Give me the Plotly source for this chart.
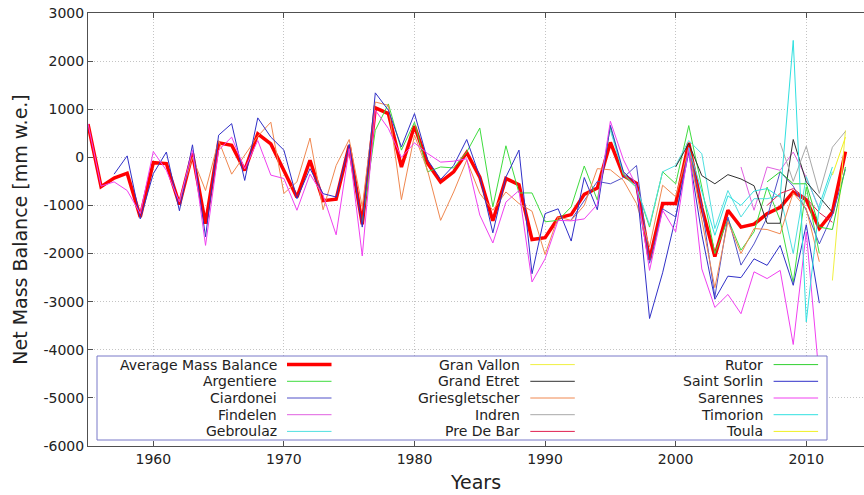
import plotly.graph_objects as go

# ---------------- data (mm w.e.) ----------------
avg_start = 1955
avg_values = [690, -610, -430, -330, -1240, -110, -130, -980, 80, -1380,
              300, 250, -270, 490, 280, -260, -830, -60, -900, -870,
              240, -1390, 1030, 910, -200, 650, -120, -510, -300, 100,
              -410, -1320, -440, -570, -1710, -1670, -1260, -1190, -770, -640,
              310, -380, -540, -2130, -960, -960, 300, -1050, -2060, -1100,
              -1450, -1390, -1170, -1040, -720, -880, -1480, -1140, 120]

argentiere_start = 1976
argentiere_values = [-1350, 560, 1110, 150, 730, -300, -200, -220, 110, 610,
                     -1030, 240, -740, -740, -1340, -1310, -1030, -180, -890, 630,
                     -370, -630, -1450, -300, -550, 660, -620, -2000, -1280, -1930,
                     -1550, -620, -1310, -2600, -620, -2000]

ciardonei_start = 1992
ciardonei_values = [-1300, -900, -500, -550, -420, -170, -2200, -1070, -1240, 200,
                    -1000, -2900, -1240, -2240, -1800, -1250, -300, -600, -1100, -1800,
                    -1200, -250]

findelen_start = 2005
findelen_values = [-200, -1100, -200, -270, 110, -420, -1070]

gebroulaz_start = 1995
gebroulaz_values = [560, -340, -620, -1410, -300, -170, 350, 75, -1480, -690,
                    -1240, -860, -860, -790, -2000, -400, -1100, -300]

gran_vallon_start = 2012
gran_vallon_values = [-2560, 560]

grand_etret_start = 2000
grand_etret_values = [-200, 290, -380, -550, -360, -450, -590, -1370, -1370, 370,
                      -510, -830, -1140]

griesgletscher_start = 1962
griesgletscher_values = [-900, 0, -690, 350, -350, 40, 440, 730, -750, -510,
                         400, -1090, -170, 370, -1030, 1150, 1080, -880, 460, -270,
                         -1310, -720, -60, -750, -1100, -720, -960, -1120, -2020, -1240,
                         -1310, -1000, -235, -260, -480, -960, -1860, -580, -820, 200,
                         -1300, -2710, -1340, -2000, -1480, -1500, -1590, -740, -1070, -2170]

indren_start = 2008
indren_values = [300, -500, 230, -750, 210, 540]

pre_de_bar_start = 2007
pre_de_bar_values = [-1000, -750, -650, -850, -1150, -1350]

rutor_start = 2007
rutor_values = [-510, -300, -550, -550, -1450, -1500, -200]

saint_sorlin_start = 1957
saint_sorlin_values = [-350, 30, -1280, -340, 110, -1110, 260, -1650, 460, 700,
                       -480, 820, 420, 150, -860, -235, -755, -825, 270, -1450,
                       1340, 980, 215, 910, -50, -460, -170, 370, -400, -1570,
                       -410, 150, -2420, -1170, -1070, -1740, -420, -1090, 665, -300,
                       -550, -3350, -2400, -1250, 100, -1600, -2950, -2470, -2500, -2110,
                       -2245, -1830, -2660, -1400, -3030]

sarennes_start = 1955
sarennes_values = [700, -600, -510, -690, -1170, 120, -270, -930, 150, -1830,
                   150, 420, -240, 350, -370, -440, -1100, -350, -790, -1610,
                   180, -2050, 980, 600, 0, 300, 80, -100, -80, -30,
                   -1200, -1780, -930, -690, -2590, -2110, -1310, -1320, -1280, -980,
                   750, -50, -600, -2350, -1100, -1550, 200, -2320, -3120, -2850,
                   -3250, -2380, -2520, -2350, -3890, -1550, -4600]

timorion_start = 2001
timorion_values = [200, -700, -1620, -800, -1000, -700, -650, -830, 2430, -3420,
                   -1000, -200]

toula_start = 2012
toula_values = [-370, 420]

x_ticks = [1960, 1970, 1980, 1990, 2000, 2010]
y_ticks = [-6000, -5000, -4000, -3000, -2000, -1000, 0, 1000, 2000, 3000]

series = [
    ("Average Mass Balance", avg_start, avg_values, "#ff0000", 3.5),
    ("Argentiere", argentiere_start, argentiere_values, "#3fdc3f", 1),
    ("Ciardonei", ciardonei_start, ciardonei_values, "#5050c8", 1),
    ("Findelen", findelen_start, findelen_values, "#e060e0", 1),
    ("Gebroulaz", gebroulaz_start, gebroulaz_values, "#50e0e0", 1),
    ("Gran Vallon", gran_vallon_start, gran_vallon_values, "#f0f040", 1),
    ("Grand Etret", grand_etret_start, grand_etret_values, "#303030", 1),
    ("Griesgletscher", griesgletscher_start, griesgletscher_values, "#f08850", 1),
    ("Indren", indren_start, indren_values, "#a8a8a8", 1),
    ("Pre De Bar", pre_de_bar_start, pre_de_bar_values, "#e02050", 1),
    ("Rutor", rutor_start, rutor_values, "#30d030", 1),
    ("Saint Sorlin", saint_sorlin_start, saint_sorlin_values, "#3030c8", 1),
    ("Sarennes", sarennes_start, sarennes_values, "#f040f0", 1),
    ("Timorion", timorion_start, timorion_values, "#30e0e0", 1),
    ("Toula", toula_start, toula_values, "#f0f020", 1),
]

# ---------------- layout geometry ----------------
W, H = 864, 495
M_L, M_R, M_T, M_B = 88, 0, 13, 49
PLOT_W = W - M_L - M_R
PLOT_H = H - M_T - M_B


def paper_x(px):
    return (px - M_L) / PLOT_W


def paper_y(py):
    return (H - M_B - py) / PLOT_H


fig = go.Figure()
for name, start, vals, color, width in series:
    years = list(range(start, start + len(vals)))
    fig.add_trace(go.Scatter(
        x=years, y=vals, name=name, mode="lines",
        line=dict(color=color, width=width),
        showlegend=False,
    ))

# ---------------- legend (gnuplot style: text right-aligned, sample on right) ----------------
LEG_LEFT, LEG_RIGHT, LEG_TOP, LEG_BOTTOM = 97, 827, 356, 440
LEG_ROWS = 5
COL_TEXT_RIGHT0, COL_STEP = 278.5, 243.3
ROW_Y0, ROW_STEP = 364.6, 16.7
SAMPLE_GAP, SAMPLE_LEN = 8.5, 44.5

shapes = [dict(type="rect", xref="paper", yref="paper", layer="above",
               x0=paper_x(LEG_LEFT), x1=paper_x(LEG_RIGHT),
               y0=paper_y(LEG_BOTTOM), y1=paper_y(LEG_TOP),
               fillcolor="white", line=dict(color="#7878c8", width=1))]
annotations = []
for i, (name, start, vals, color, width) in enumerate(series):
    col, row = divmod(i, LEG_ROWS)
    tx = COL_TEXT_RIGHT0 + COL_STEP * col
    ty = ROW_Y0 + ROW_STEP * row
    annotations.append(dict(
        x=paper_x(tx), y=paper_y(ty), xref="paper", yref="paper",
        text=name, showarrow=False, xanchor="right", yanchor="middle",
        font=dict(family="DejaVu Sans, sans-serif", size=14, color="#222222"),
    ))
    shapes.append(dict(
        type="line", xref="paper", yref="paper", layer="above",
        x0=paper_x(tx + SAMPLE_GAP), x1=paper_x(tx + SAMPLE_GAP + SAMPLE_LEN),
        y0=paper_y(ty), y1=paper_y(ty),
        line=dict(color=color, width=width),
    ))

axis_color = "#505050"
grid_color = "#c4c4c4"
font_family = "DejaVu Sans, sans-serif"

fig.update_layout(
    width=W, height=H,
    margin=dict(l=M_L, r=M_R, t=M_T, b=M_B),
    paper_bgcolor="white", plot_bgcolor="white",
    font=dict(family=font_family, size=14, color="#222222"),
    showlegend=False,
    shapes=shapes,
    annotations=annotations,
    xaxis=dict(
        range=[1955, 2014.42],
        tickvals=x_ticks, ticktext=[str(v) for v in x_ticks],
        showgrid=True, gridcolor=grid_color, griddash="1px,2px", gridwidth=1,
        showline=True, linecolor=axis_color, linewidth=1, mirror="ticks",
        ticks="inside", ticklen=5, tickcolor=axis_color,
        zeroline=False,
        title=dict(text="Years", font=dict(size=19, color="#222222"), standoff=9),
    ),
    yaxis=dict(
        range=[-6000, 3000],
        tickvals=y_ticks, ticktext=[str(v) for v in y_ticks],
        showgrid=True, gridcolor=grid_color, griddash="1px,2px", gridwidth=1,
        showline=True, linecolor=axis_color, linewidth=1, mirror=False,
        ticks="inside", ticklen=5, tickcolor=axis_color,
        zeroline=False,
        title=dict(text="Net Mass Balance [mm w.e.]", font=dict(size=19, color="#222222"), standoff=10),
    ),
)

fig.write_html("out.html")
